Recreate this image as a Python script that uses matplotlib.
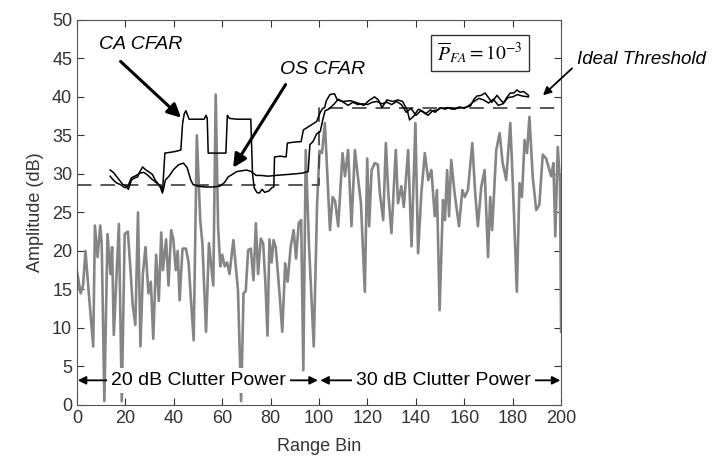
import matplotlib
matplotlib.use("Agg")
import matplotlib.pyplot as plt
import numpy as np

plt.rcParams['font.family'] = ['Liberation Sans', 'DejaVu Sans']
plt.rcParams['mathtext.fontset'] = 'stix'

# clutter + target returns (gray trace)
clutter_bin = [0, 1.5, 2.5, 3.5, 5, 6.7, 7.4, 8.5, 9.6, 10.2, 11.3, 12.6, 13.8, 14.5, 15.2,
               17.3, 18.5, 19.7, 21, 22, 23, 24.1, 25.2, 26.2, 27.2, 28.3, 29.5, 30.5, 31.5,
               32.7, 33.8, 34.8, 35.5, 36.8, 37.8, 38.9, 39.8, 40.8, 41.6, 42.4, 43.6, 45,
               46.1, 47, 48.2, 49.5, 50.9, 51.8, 53.3, 54.5, 55.5, 56.3, 57.3, 58.3, 59.2, 60,
               61, 62, 63, 64.6, 65.6, 66.5, 67.8, 68.8, 69.7, 70.7, 71.8, 72.9, 73.9, 74.8,
               75.9, 76.9, 77.8, 78.7, 79.5, 80.4, 81.2, 82.1, 83, 83.9, 84.8, 86, 87, 88.3,
               89.5, 90.5, 91.6, 92.6, 93.5, 94.5, 95.8, 97.8, 99.2, 100.2, 101.2, 102.4, 103.8,
               104.5, 105.6, 106.6, 107.9, 109.7, 110.7, 112, 113.4, 114.8, 116, 117.3, 118.9,
               119.9, 120.7, 121.7, 123, 124.3, 125.1, 126.5, 127.6, 128.6, 129.9, 131.7, 132.6,
               134, 135, 136.8, 138.2, 139.8, 140.9, 142.3, 143.7, 145.1, 146.4, 147.8, 148.7,
               149.8, 151.2, 152, 152.9, 153.7, 154.6, 156, 157.8, 159.2, 160.2, 161.5, 163.3,
               164.5, 165.6, 167, 168.4, 169.8, 170.7, 171.5, 173.2, 174.6, 175.8, 177.3, 179,
               180.1, 181.7, 182.8, 183.8, 184.9, 185.9, 186.9, 188.3, 189.7, 191, 192.4, 193.8,
               195.9, 196.8, 197.6, 198.6, 199.5, 200]
clutter_db = [17.3, 14.5, 15.5, 20, 14, 7.6, 23.3, 19.2, 23.3, 21, 0.5, 22.2, 17, 20.5, 9.1,
              23.5, 0.5, 22.2, 22.5, 18, 13, 10.4, 25, 7.6, 17, 20.5, 14.5, 16, 8.6,
              19.5, 13.5, 22.4, 17.5, 21.5, 15.5, 22.7, 21.5, 17.5, 20, 13.6, 20.3, 20.3,
              18.5, 14, 8.4, 35, 24, 21, 9.5, 21, 18, 15.5, 40.3, 23, 18, 19.5,
              18, 18.5, 17, 21.4, 18, 14.9, 0.5, 14.5, 14.8, 20.1, 20.3, 16.2, 23.6, 17,
              21.6, 21, 16, 9, 21.5, 18.5, 21.4, 20.5, 17.1, 13.5, 9.5, 18.4, 16, 20.6,
              22.7, 19, 23.6, 24, 4.5, 33.1, 21, 7.6, 26.2, 33, 32.7, 36.6, 27.5,
              22.7, 27, 26.5, 23.2, 32.7, 29.7, 33.1, 23.2, 33.1, 29.7, 26.2, 14.7,
              32, 23.2, 30.5, 31.4, 31.2, 27.5, 24, 34, 27.5, 22.3, 33.1, 26.2,
              28.4, 25.7, 33.1, 20.6, 36.6, 19.7, 27.7, 32.7, 29.2, 30.5, 24.5, 27.9,
              12.3, 26.6, 24, 30.5, 24.5, 31.8, 27.5, 23.2, 27.9, 27, 27.9, 34,
              27.5, 23.2, 28.3, 30.5, 19.2, 27, 22.7, 33.1, 35.3, 31.5, 29.2, 36.6,
              28.3, 14.7, 28.8, 27, 34.4, 32.7, 37.4, 29.5, 25.3, 26, 32.5, 32,
              29.7, 31.4, 21.9, 33.5, 29, 9.5]

# cell-averaging CFAR threshold
ca_bin = [13.7, 15, 16.5, 17.5, 19, 20, 21.2, 22.5, 24, 25, 26, 27.1, 28.5, 30, 31.2, 32.3,
          33.3, 34.5, 35.3, 36.3, 38.5, 40.5, 42.9, 43.6, 44.3, 45, 45.7, 46.3, 50, 52.5,
          53.3, 53.8, 54.2, 58, 61.5, 62.1, 63, 66, 71.8, 72.5, 73.2, 74.3, 75.3, 76.5,
          77.5, 79.3, 80.5, 81.3, 81.6, 84, 86.4, 86.9, 89, 92.6, 93.5, 96, 99, 100.5, 101.5,
          102.3, 103, 104.5, 106.4, 107.5, 110, 113, 116, 118.5, 120.5, 122.9, 124.5, 126,
          128, 130.5, 132.5, 134.5, 136.4, 137.4, 139.1, 141, 143, 145, 147, 149, 150, 153,
          155, 158.3, 160, 162.5, 164, 165.2, 167, 168.6, 170, 171.4, 173.5, 175, 176.2,
          177.5, 179, 180.5, 181.7, 183, 184.5, 186.5]
ca_db = [30.5, 30.2, 29.6, 29.2, 28.6, 28.5, 28.0, 29.2, 29.5, 29.6, 30.3, 30.9, 30.5, 30.2,
         29.9, 29.2, 28.8, 28.2, 27.5, 32.7, 32.8, 32.9, 33.1, 36.5, 37.8, 38.2, 37.6, 37.1,
         37.1, 37.1, 37.6, 37.2, 32.7, 32.7, 32.7, 37.6, 37.2, 37.1, 37.1, 30, 28.2, 27.6,
         27.5, 28.0, 27.6, 27.8, 28.2, 28.3, 32.2, 32.3, 32.2, 34.0, 34.1, 34.2, 35.7, 36.2,
         36.8, 38.0, 38.5, 38.6, 39.5, 40.3, 40.4, 39.6, 39.4, 39.5, 39.2, 38.9, 39.5, 40.0,
         39.6, 38.6, 39.6, 39.4, 39.6, 39.4, 38.3, 37.0, 37.5, 38.4, 38.1, 37.6, 38.2, 38.3,
         38.5, 38.6, 38.4, 38.6, 38.6, 38.8, 39.7, 40.1, 40.2, 40.5, 39.9, 39.3, 40.2, 39.6,
         39.2, 39.9, 40.5, 40.5, 40.9, 40.6, 40.7, 40.2]

# ordered-statistic CFAR threshold
os_bin = [13.7, 15, 16.5, 18, 19.8, 21, 22.5, 24.5, 26, 27.5, 29, 31, 33, 35, 35.6, 36.5, 38,
          40, 42, 44, 45.5, 47, 48, 50, 53, 56, 59, 61, 62.4, 64.5, 66, 68, 70, 72, 74, 76,
          79, 82, 86, 90, 93, 95.5, 96.2, 97.5, 99, 100.5, 101.5, 102.5, 104, 106, 108, 110,
          112, 114, 116, 118, 120, 122, 124, 126, 128, 130, 132, 134, 136, 138, 140, 142,
          144, 146, 148, 150, 152, 154, 156, 158, 160, 162, 164, 166, 168, 170, 172, 174,
          176, 178, 180, 182, 184, 186.5]
os_db = [29.7, 29.2, 28.8, 28.6, 28.2, 28.4, 29.5, 29.8, 30.1, 30.2, 29.9, 29.3, 28.8, 28.3,
         27.8, 29.2, 29.7, 30.6, 31.2, 31.4, 30.8, 29.2, 28.6, 28.4, 28.3, 28.3, 28.4, 28.9,
         29.6, 30.0, 30.3, 30.4, 30.5, 30.3, 29.8, 29.8, 29.7, 29.8, 29.9, 30, 30.1, 30.3,
         33.8, 34.2, 35.2, 35.5, 37, 38.2, 38.4, 39, 39.7, 39.3, 38.9, 39.3, 39.0, 39.1,
         39.0, 39.3, 39.4, 39.1, 39.3, 39.0, 39.4, 39.0, 38.0, 38.5, 37.6, 38.2, 37.8, 38.3,
         38.0, 38.6, 38.4, 38.6, 38.4, 38.7, 38.5, 38.9, 39.4, 39.8, 39.6, 39.2, 39.7, 38.9,
         39.1, 39.9, 40.0, 40.3, 40.1, 40.0]

# ideal threshold (step at the clutter edge)
ideal_bin = [0, 100, 100, 200]
ideal_db = [28.5, 28.5, 38.5, 38.5]

fig = plt.figure(figsize=(7.13, 4.61), dpi=100)
ax = fig.add_axes([0.108, 0.1215, 0.679, 0.8355])

ax.plot(clutter_bin, clutter_db, color='#858585', lw=1.9, zorder=2)
ax.plot(ideal_bin, ideal_db, color='#4a4a4a', lw=1.3, ls=(0, (8, 5)), zorder=3)
ax.plot(ca_bin, ca_db, color='black', lw=1.1, zorder=4)
ax.plot(os_bin, os_db, color='black', lw=1.1, zorder=4)

ax.set_xlim(0, 200)
ax.set_ylim(0, 50)
ax.set_xticks(np.arange(0, 201, 20))
ax.set_yticks(np.arange(0, 51, 5))
ax.tick_params(direction='in', top=True, right=True, labelsize=13, colors='#333333',
               length=5, width=0.8)
for s in ax.spines.values():
    s.set_color('#555555')
ax.set_xlabel('Range Bin', fontsize=13, color='#333333', labelpad=8)
ax.set_ylabel('Amplitude (dB)', fontsize=13, color='#333333', labelpad=6)

arr = dict(arrowstyle='-|>', color='black', lw=2.2, mutation_scale=20, shrinkA=0, shrinkB=0)
ax.text(26.5, 46.8, 'CA CFAR', fontsize=14, style='italic', ha='center', va='center')
ax.annotate('', xy=(43.0, 37.3), xytext=(18.0, 44.6), arrowprops=arr)
ax.text(101.5, 43.5, 'OS CFAR', fontsize=14, style='italic', ha='center', va='center')
ax.annotate('', xy=(64.5, 30.8), xytext=(86.2, 41.6), arrowprops=arr)

ax.text(166.5, 45.7, r'$\overline{P}_{FA} = 10^{-3}$', fontsize=14, ha='center', va='center',
        bbox=dict(boxstyle='square,pad=0.3', fc='white', ec='#333333', lw=1.0))

ax.text(233, 44.8, 'Ideal Threshold', fontsize=13.5, style='italic', ha='center', va='center',
        clip_on=False)
ax.annotate('', xy=(192.5, 40.2), xytext=(204.5, 43.7), annotation_clip=False,
            arrowprops=dict(arrowstyle='-|>', color='black', lw=1.3, mutation_scale=12,
                            shrinkA=0, shrinkB=0))

band = dict(arrowstyle='<|-|>', color='black', lw=1.3, mutation_scale=12, shrinkA=0, shrinkB=0)
ax.annotate('', xy=(0.3, 3.2), xytext=(99.5, 3.2), arrowprops=band, zorder=5)
ax.annotate('', xy=(100.5, 3.2), xytext=(199.7, 3.2), arrowprops=band, zorder=5)
ax.text(50.3, 3.2, '20 dB Clutter Power', fontsize=14, ha='center', va='center', zorder=6,
        bbox=dict(boxstyle='square,pad=0.2', fc='white', ec='none'))
ax.text(151.3, 3.2, '30 dB Clutter Power', fontsize=14, ha='center', va='center', zorder=6,
        bbox=dict(boxstyle='square,pad=0.2', fc='white', ec='none'))

fig.savefig('out.png', dpi=100)
